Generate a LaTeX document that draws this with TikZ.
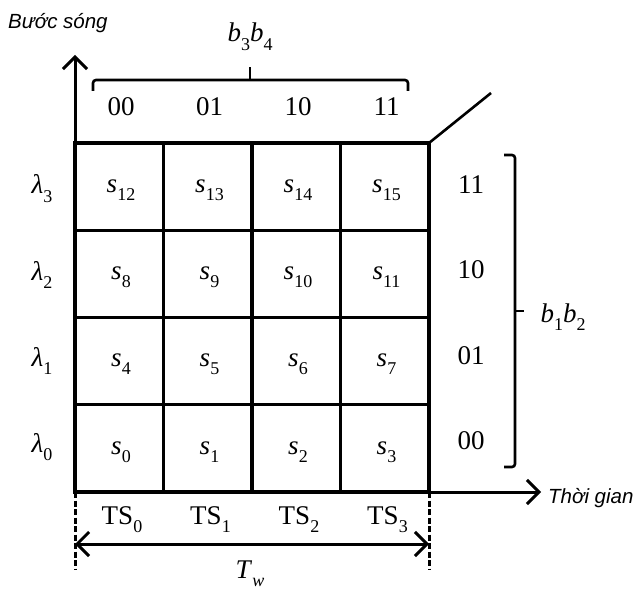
\documentclass[tikz,border=0pt]{standalone}
\usepackage{fontspec}
\setmainfont{Liberation Serif}
\newfontfamily\axisfont{Liberation Sans}
\usetikzlibrary{arrows.meta, positioning}
\newcommand{\sbs}[2]{\textit{#1}\raisebox{-0.3em}{\fontsize{18}{18}\selectfont #2}}
\tikzset{
  gridline/.style={line width=3.2pt},
  axis/.style={-{Straight Barb[length=12pt,width=24pt,line width=3pt]}, line width=3pt},
  span/.style={{Straight Barb[length=12pt,width=24pt,line width=3pt]}-{Straight Barb[length=12pt,width=24pt,line width=3pt]}, line width=3pt},
  brace/.style={line width=2.6pt, rounded corners=3pt},
  guide/.style={line width=3pt, dash pattern=on 6pt off 2.5pt},
  lbl/.style={font=\fontsize{27}{30}\selectfont, inner sep=1pt, anchor=base},
  axlbl/.style={font=\axisfont\itshape\fontsize{20.5}{24}\selectfont, inner sep=0pt, anchor=base west},
}
\begin{document}
\begin{tikzpicture}[x=1pt, y=-1pt]
  \useasboundingbox (0,0) rectangle (638,591);
  % corners of the slot grid
  \coordinate (tl) at (75,143);
  \coordinate (br) at (429,492);
  \coordinate (tr) at (429,143);
  \coordinate (bl) at (75,492);
  % grid
  \draw[gridline] (tl) rectangle (br);
  \foreach \x in {163.5,252,340.5}
    \draw[gridline] (\x,143) -- (\x,492);
  \foreach \y in {230.25,317.5,404.75}
    \draw[gridline] (75,\y) -- (429,\y);
  % cells s_0 ... s_15
  \foreach \r in {0,...,3}
    \foreach \c in {0,...,3} {
      \pgfmathtruncatemacro{\k}{4*\r+\c}
      \node[lbl] (s\k) at ({121+88.5*\c},{454-87.25*\r}) {\sbs{s}{\k}};
    }
  % wavelengths and row codes
  \foreach \r/\code in {0/00,1/01,2/10,3/11} {
    \node[lbl] (lam\r) at (42,{452-86*\r}) {\sbs{λ}{\r}};
    \node[lbl] (row\r) at (471,{449-85*\r}) {\code};
  }
  % column codes and time slots
  \foreach \c/\code in {0/00,1/01,2/10,3/11} {
    \node[lbl] (col\c) at ({121+88.5*\c},116) {\code};
    \node[lbl] (ts\c) at ({122+88.5*\c},524) {TS\raisebox{-0.3em}{\fontsize{18}{18}\selectfont\c}};
  }
  % axes
  \coordinate (ytip) at (75,55);
  \coordinate (xtip) at (541,492);
  \draw[axis] (bl) -- (ytip);
  \draw[axis] (bl) -- (xtip);
  \node[axlbl] (wave) at (8,29) {Bước sóng};
  \node[axlbl] (time) at (548,503) {Thời gian};
  % top brace
  \draw[brace] (93,91) -- (93,80) -- (408,80) -- (408,91);
  \draw[line width=2.6pt] (250,80) -- (250,67);
  \node[lbl] (b34) at (250,42) {\sbs{b}{3}\sbs{b}{4}};
  % right brace
  \draw[brace] (504,155) -- (515,155) -- (515,467) -- (504,467);
  \draw[line width=2.6pt] (515,311) -- (524,311);
  \node[lbl] (b12) at (563,322) {\sbs{b}{1}\sbs{b}{2}};
  % slant edge
  \coordinate (slant) at (491,93);
  \draw[line width=2.6pt] (tr) -- (slant);
  % frame width
  \coordinate (gl) at (75,570);
  \coordinate (gr) at (429,570);
  \draw[guide] (bl) -- (gl);
  \draw[guide] (br) -- (gr);
  \draw[span] (75,544) -- (429,544);
  \node[lbl] (tw) at (250,578) {\sbs{T}{\textit{w}}};
\end{tikzpicture}
\end{document}
